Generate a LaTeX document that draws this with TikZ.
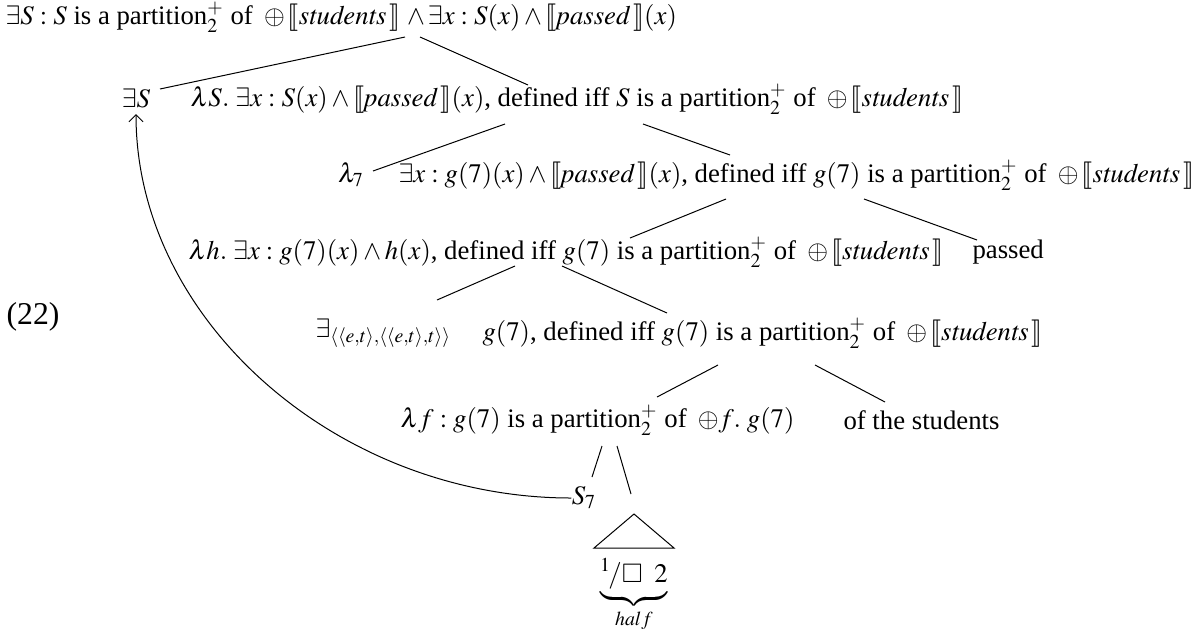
\documentclass[tikz,border=0pt]{standalone}
\usepackage{amsmath,amssymb}
\usepackage{mathptmx}
\usepackage{stmaryrd}
\usepackage{fontspec}
\setmainfont{Liberation Serif}
\usepackage{tikz}
\usetikzlibrary{arrows.meta,calc}
\newcommand{\semb}[1]{\llbracket\mathit{#1}\,\rrbracket}
\newcommand{\ptn}{partition$^+_2$ of\, $\oplus\,\semb{students}$}

\begin{document}
\begin{tikzpicture}[x=0.4pt,y=-0.4pt,
    font=\fontsize{10.7}{12}\selectfont,
    lbl/.style={inner sep=0pt,anchor=west},
    leaf/.style={inner sep=0pt},
    mv/.style={-{Straight Barb[length=1mm]},line width=0.4pt}
  ]
  \useasboundingbox (0,0) rectangle (1203,628);
  \node[leaf,font=\fontsize{12.7}{15}\selectfont] (exnum) at (33,317) {(22)};
  % tree nodes
  \node[lbl] (root) at (5,17) {$\exists S : S$ is a \ptn\ $\wedge\,\exists x : S(x)\wedge\semb{passed}(x)$};
  \node[leaf] (exS) at (136,98) {$\exists S$};
  \node[lbl] (lamS) at (190,99) {$\lambda S.\;\exists x : S(x)\wedge\semb{passed}(x)$, defined iff $S$ is a \ptn};
  \node[leaf] (lamSeven) at (351,175) {$\lambda_7$};
  \node[lbl] (exX) at (398,175) {$\exists x : g(7)(x)\wedge\semb{passed}(x)$, defined iff $g(7)$ is a \ptn};
  \node[lbl] (lamH) at (188,252) {$\lambda h.\;\exists x : g(7)(x)\wedge h(x)$, defined iff $g(7)$ is a \ptn};
  \node[lbl] (passed) at (972,252) {passed};
  \node[lbl] (exT) at (315,333) {$\exists_{\langle\langle e,t\rangle,\langle\langle e,t\rangle,t\rangle\rangle}$};
  \node[lbl] (gSeven) at (482,333) {$g(7)$, defined iff $g(7)$ is a \ptn};
  \node[lbl] (lamF) at (400,420) {$\lambda f : g(7)$ is a partition$^+_2$ of\, $\oplus f.\; g(7)$};
  \node[lbl] (stud) at (843,420) {of the students};
  \node[leaf] (sSeven) at (584,498) {$S_7$};
  \coordinate (roof) at (634,514);
  \node[leaf,anchor=north] (half) at (634,558) {$\underbrace{\rule[-2pt]{0pt}{2pt}{}^{1}\!/\square\;\;2}_{half}$};
  % branches
  \draw ($(root.west)+(400,20)$) -- ($(exS.center)+(24,-9)$);
  \draw ($(root.west)+(415,20)$) -- ($(lamS.west)+(338,-14)$);
  \draw ($(lamS.west)+(315,25)$) -- ($(lamSeven.center)+(22,-4)$);
  \draw ($(lamS.west)+(453,25)$) -- ($(exX.west)+(332,-20)$);
  \draw ($(exX.west)+(328,24)$) -- ($(lamH.west)+(442,-14)$);
  \draw ($(exX.west)+(466,24)$) -- ($(passed.west)+(5,-12)$);
  \draw ($(lamH.west)+(327,14)$) -- ($(exT.west)+(122,-33)$);
  \draw ($(lamH.west)+(374,14)$) -- ($(gSeven.west)+(185,-20)$);
  \draw ($(gSeven.west)+(236,32)$) -- ($(lamF.west)+(257,-23)$);
  \draw ($(gSeven.west)+(333,32)$) -- ($(stud.west)+(42,-18)$);
  \draw ($(lamF.west)+(202,26)$) -- ($(sSeven.center)+(8,-21)$);
  \draw ($(lamF.west)+(217,26)$) -- ($(roof)+(-3,-20)$);
  \draw (roof) -- ++(-40,34) -- ++(80,0) -- cycle;
  % movement
  \draw[mv] (sSeven.west) .. controls ($(sSeven.west)+(-233,0)$) and ($(exS.south)+(0,213)$) .. ($(exS.south)+(0,6)$);
\end{tikzpicture}
\end{document}
